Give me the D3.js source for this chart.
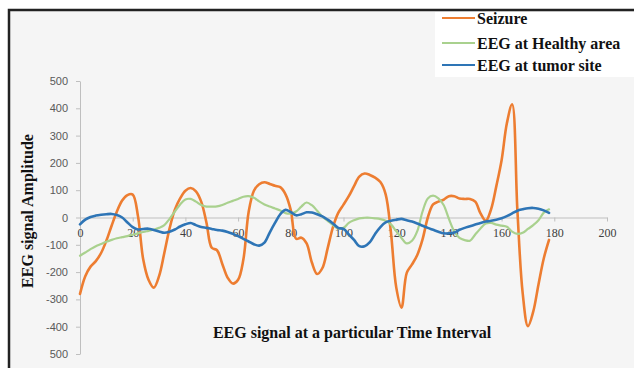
<!DOCTYPE html>
<html>
<head>
<meta charset="utf-8">
<style>
body { margin: 0; background: #fff; }
.axis .domain { stroke: #bfbfbf; }
.axis line { stroke: #bfbfbf; }
.y-axis text { font: 11px "Liberation Sans", sans-serif; fill: #595959; }
.x-axis text { font: 12px "Liberation Serif", serif; fill: #404040; }
.title { font: bold 16px "Liberation Serif", serif; fill: #111; }
.series { fill: none; stroke-linejoin: round; stroke-linecap: round; }
</style>
</head>
<body>
<svg id="chart" width="634" height="368"></svg>
<script src="https://d3js.org/d3.v7.min.js"></script>
<script>
// sample times (every 2 units, 0..178)
var times = d3.range(0, 179, 2);

var seizure = [
  -280, -215, -180, -160, -130, -85, -30, 22, 62, 82,
  84, 5, -154, -228, -257, -215, -130, -40, 29, 70,
  98, 108, 96, 58, -19, -111, -120, -170, -220, -242,
  -228, -154, 20, 98, 122, 129, 123, 116, 111, 85,
  27, -78, -74, -95, -165, -207, -185, -112, -35, 17,
  47, 78, 115, 150, 161, 156, 146, 130, 85, -55,
  -255, -330, -203, -172, -137, -80, 0, 48, 58, 65,
  78, 78, 70, 68, 68, 58, 15, -12, 30, 115,
  210, 345, 415, 25, -277, -398, -345, -245, -150, -82
];

var healthy = [
  -140, -128, -116, -105, -97, -89, -82, -76, -72, -68,
  -63, -58, -53, -49, -45, -38, -28, -5, 22, 48,
  66, 68, 58, 46, 40, 40, 41, 46, 54, 61,
  68, 76, 78, 72, 59, 48, 40, 33, 26, 16,
  14, 22, 40, 55, 45, 25, 3, -12, -28, -40,
  -38, -20, -10, -3, -1, -1, -3, -6, -12, -25,
  -50, -75, -95, -85, -50, 22, 70, 80, 70, 46,
  -5, -50, -75, -83, -85, -62, -40, -22, -20, -26,
  -30, -34, -52, -60, -56, -42, -28, -10, 18, 30
];

var tumor = [
  -25, -8, 2, 7, 10, 12, 13, 9, 0, -18,
  -35, -44, -42, -41, -46, -51, -56, -52, -44, -33,
  -25, -20, -28, -35, -38, -42, -46, -48, -53, -60,
  -68, -78, -88, -98, -103, -92, -55, -20, 12, 28,
  20, 8, 12, 19, 18, 12, 4, -8, -22, -38,
  -42, -62, -82, -105, -105, -90, -60, -35, -18, -12,
  -8, -5, -10, -15, -22, -30, -38, -45, -52, -58,
  -58, -55, -45, -38, -32, -26, -20, -15, -12, -8,
  -3, 5, 15, 25, 30, 34, 35, 32, 26, 17
];

var seriesNames = ["Seizure", "EEG at Healthy area", "EEG at tumor site"];
var seriesColors = ["#ED7D31", "#A9D18E", "#2E75B6"];
var seriesWidths = [2.6, 2.2, 2.6];

var xTicks = [0, 20, 40, 60, 80, 100, 120, 140, 160, 180, 200];
var yTicks = [500, 400, 300, 200, 100, 0, -100, -200, -300, -400, -500];
var yTickLabels = ["500", "400", "300", "200", "100", "0", "-100", "-200", "-300", "-400", "500"];

var svg = d3.select("#chart");

// chart frame (cut off at right and bottom like the source)
svg.append("rect")
  .attr("x", 9).attr("y", 10)
  .attr("width", 640).attr("height", 370)
  .attr("fill", "#f5f5f5")
  .attr("stroke", "#222")
  .attr("stroke-width", 2.5);

var x = d3.scaleLinear().domain([0, 200]).range([80, 607]);
var y = d3.scaleLinear().domain([-500, 500]).range([354, 81]);

svg.append("g")
  .attr("class", "axis y-axis")
  .attr("transform", "translate(" + x(0) + ",0)")
  .call(d3.axisLeft(y).tickValues(yTicks).tickSize(4).tickSizeOuter(0).tickPadding(8)
    .tickFormat(function(d, i) { return yTickLabels[i]; }));

svg.append("g")
  .attr("class", "axis x-axis")
  .attr("transform", "translate(0," + y(0) + ")")
  .call(d3.axisBottom(x).tickValues(xTicks).tickSize(4).tickSizeOuter(0).tickPadding(7));

var line = d3.line()
  .curve(d3.curveCatmullRom.alpha(0.5))
  .x(function(d) { return x(d[0]); })
  .y(function(d) { return y(d[1]); });

[seizure, healthy, tumor].forEach(function(vals, k) {
  svg.append("path")
    .attr("class", "series")
    .attr("d", line(times.map(function(t, i) { return [t, vals[i]]; })))
    .attr("stroke", seriesColors[k])
    .attr("stroke-width", seriesWidths[k]);
});

// legend
svg.append("rect")
  .attr("x", 435).attr("y", 12)
  .attr("width", 210).attr("height", 65)
  .attr("fill", "#fff");

var leg = svg.selectAll(".leg")
  .data(seriesNames)
  .enter().append("g")
    .attr("class", "leg")
    .attr("transform", function(d, i) { return "translate(442," + [18, 43, 65][i] + ")"; });
leg.append("line")
  .attr("x1", 0).attr("x2", 33)
  .attr("stroke", function(d, i) { return seriesColors[i]; })
  .attr("stroke-width", 2);
leg.append("text")
  .attr("class", "title")
  .attr("x", 35)
  .attr("dy", "0.35em")
  .text(function(d) { return d; });

// axis titles
svg.append("text")
  .attr("class", "title")
  .attr("transform", "translate(27,211) rotate(-90)")
  .attr("text-anchor", "middle")
  .attr("dy", "0.35em")
  .text("EEG signal Amplitude");

svg.append("text")
  .attr("class", "title")
  .attr("x", 352).attr("y", 332)
  .attr("text-anchor", "middle")
  .attr("dy", "0.35em")
  .text("EEG signal at a particular Time Interval");
</script>
</body>
</html>
